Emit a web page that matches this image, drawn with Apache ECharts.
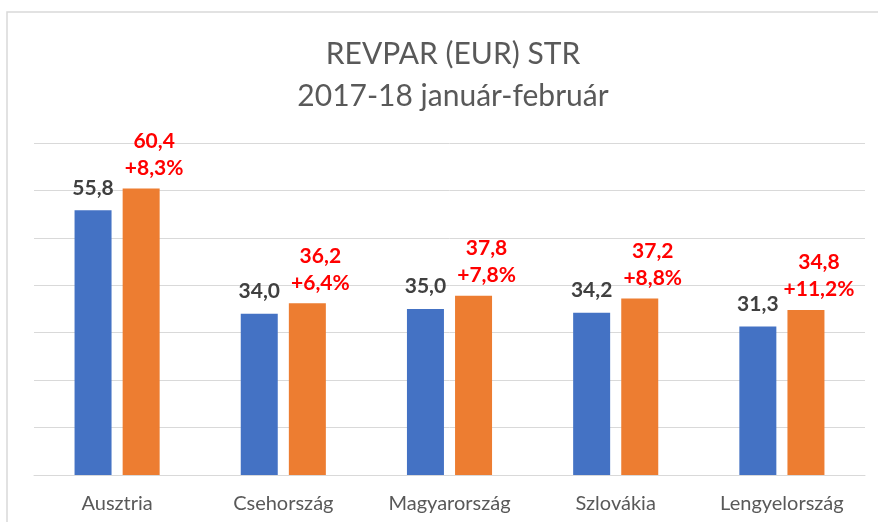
<!DOCTYPE html>
<html>
<head>
<meta charset="utf-8">
<script src="https://cdn.jsdelivr.net/npm/echarts@6/dist/echarts.min.js"></script>
<style>
html,body{margin:0;padding:0;background:#fff;}
#chart{width:878px;height:522px;}
</style>
</head>
<body>
<div id="chart"></div>
<script>
var titleLines = ['REVPAR (EUR) STR', '2017-18 január-február'];
var categories = ['Ausztria', 'Csehország', 'Magyarország', 'Szlovákia', 'Lengyelország'];
var revpar2017 = [55.8, 34.0, 35.0, 34.2, 31.3];
var revpar2018 = [60.4, 36.2, 37.8, 37.2, 34.8];
var changeLabels = ['+8,3%', '+6,4%', '+7,8%', '+8,8%', '+11,2%'];
var yMin = 0, yMax = 70, yStep = 10;

function fmt(v) { return v.toFixed(1).replace('.', ','); }

var chart = echarts.init(document.getElementById('chart'));
var FONT = 'Lato';
chart.setOption({
  animation: false,
  backgroundColor: '#ffffff',
  title: {
    text: titleLines.join('\n'),
    left: 448,
    top: 28,
    textAlign: 'center',
    textStyle: { fontFamily: FONT, fontSize: 30, fontWeight: 'normal', color: '#595959', lineHeight: 42 }
  },
  graphic: [{
    type: 'rect',
    silent: true,
    shape: { x: 7, y: 12, width: 900, height: 600 },
    style: { fill: 'none', stroke: '#d9d9d9', lineWidth: 1.5 }
  }],
  grid: { left: 34, right: 13, top: 143, bottom: 47, containLabel: false },
  xAxis: {
    type: 'category',
    data: categories,
    axisLine: { show: true, lineStyle: { color: '#d9d9d9', width: 1 } },
    axisTick: { show: false },
    axisLabel: { color: '#595959', fontFamily: FONT, fontSize: 20, margin: 19 }
  },
  yAxis: {
    type: 'value',
    min: yMin, max: yMax, interval: yStep,
    axisLine: { show: false },
    axisTick: { show: false },
    axisLabel: { show: false },
    splitLine: { lineStyle: { color: '#d9d9d9', width: 1 } }
  },
  series: [{
    type: 'bar',
    data: revpar2017,
    barWidth: 37,
    barGap: '30%',
    itemStyle: { color: '#4472C4' },
    label: {
      show: true, position: 'top', distance: 12,
      formatter: function (p) { return fmt(p.value); },
      fontFamily: FONT, fontSize: 21, fontWeight: 'bold', color: '#404040'
    }
  }, {
    type: 'bar',
    data: revpar2018,
    barWidth: 37,
    itemStyle: { color: '#ED7D31' },
    label: {
      show: true, position: 'top', distance: 7, offset: [13, 0],
      formatter: function (p) { return fmt(p.value) + '\n' + changeLabels[p.dataIndex]; },
      fontFamily: FONT, fontSize: 21, fontWeight: 'bold', color: '#FF0000', lineHeight: 27
    }
  }]
});
</script>
</body>
</html>
